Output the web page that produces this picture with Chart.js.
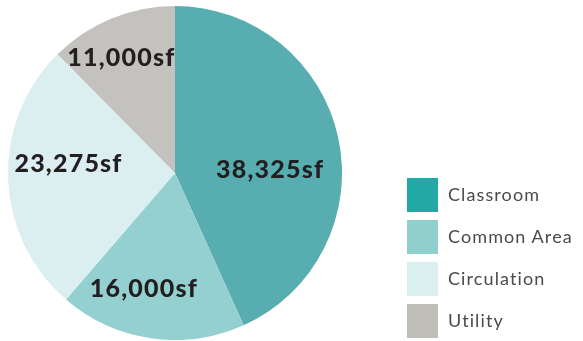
<!DOCTYPE html>
<html>
<head>
<meta charset="utf-8">
<script src="https://cdn.jsdelivr.net/npm/chart.js@4/dist/chart.umd.min.js"></script>
<style>
  html, body { margin: 0; padding: 0; background: #ffffff; }
  body { width: 583px; height: 341px; position: relative; overflow: hidden; }
  #pieWrap { position: absolute; left: 0; top: 6px; width: 350px; height: 334px; }
  #legend { position: absolute; left: 407px; top: 178px; filter: blur(0.6px); }
  .row { position: relative; height: 42px; }
  .sw { position: absolute; left: 0; top: 0; width: 31px; height: 34px; }
  .lbl { position: absolute; left: 41px; top: 5px; font-family: Lato, "Noto Sans", sans-serif;
         font-size: 18px; letter-spacing: 1.1px; color: #4a4a4a; white-space: nowrap; }
</style>
</head>
<body>
<div id="pieWrap"><canvas id="pie"></canvas></div>
<div id="legend"></div>
<script>
// Floor area by space type (square feet)
const categories = ["Classroom", "Common Area", "Circulation", "Utility"];
const areas = [38325, 16000, 23275, 11000];
const unitSuffix = "sf";

// Styling
const sliceColors = ["#57adaf", "#94d0cf", "#dbeff0", "#c3c2be"];
const swatchColors = ["#22a9a5", "#8fd0cc", "#daf0f0", "#bfbeb9"];
// Label placement inside each slice: angle (degrees clockwise from 12 o'clock) and radius fraction
const labelAngles = [88, 195, 275, 335];
const labelRadii = [0.57, 0.72, 0.64, 0.76];

const fmt = v => v.toLocaleString("en-US") + unitSuffix;

const sliceLabels = {
  id: "sliceLabels",
  afterDatasetsDraw(chart) {
    const ctx = chart.ctx;
    const meta = chart.getDatasetMeta(0);
    ctx.save();
    ctx.font = "900 25px Lato, 'Noto Sans', sans-serif";
    ctx.letterSpacing = "1.2px";
    ctx.fillStyle = "#231f20";
    ctx.textAlign = "center";
    ctx.textBaseline = "middle";
    meta.data.forEach((arc, i) => {
      const a = (labelAngles[i] - 90) * Math.PI / 180;
      const r = arc.outerRadius * labelRadii[i];
      ctx.fillText(fmt(areas[i]), arc.x + r * Math.cos(a), arc.y + r * Math.sin(a));
    });
    ctx.restore();
  }
};

new Chart(document.getElementById("pie"), {
  type: "pie",
  data: {
    labels: categories,
    datasets: [{ data: areas, backgroundColor: sliceColors, borderWidth: 0 }]
  },
  options: {
    responsive: true,
    maintainAspectRatio: false,
    animation: false,
    layout: { padding: 0 },
    plugins: { legend: { display: false }, tooltip: { enabled: false } }
  },
  plugins: [sliceLabels]
});

// Legend
const legend = document.getElementById("legend");
categories.forEach((c, i) => {
  const row = document.createElement("div");
  row.className = "row";
  const sw = document.createElement("div");
  sw.className = "sw";
  sw.style.background = swatchColors[i];
  const t = document.createElement("div");
  t.className = "lbl";
  t.textContent = c;
  row.appendChild(sw);
  row.appendChild(t);
  legend.appendChild(row);
});
</script>
</body>
</html>
